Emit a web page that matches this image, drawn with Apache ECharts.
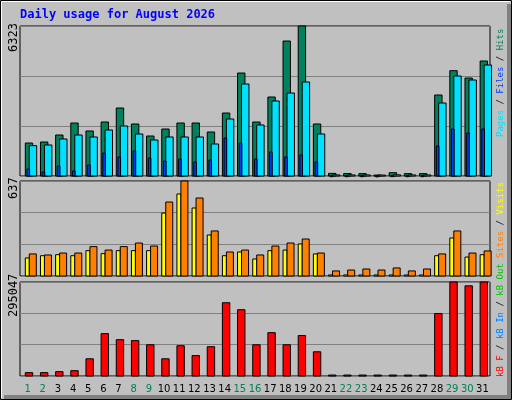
<!DOCTYPE html>
<html><head><meta charset="utf-8">
<script src="https://cdn.jsdelivr.net/npm/echarts@6/dist/echarts.min.js"></script>
<style>html,body{margin:0;padding:0;background:#fff}#c{width:512px;height:400px}</style>
</head><body><div id="c"></div>
<script>
const days = ['1','2','3','4','5','6','7','8','9','10','11','12','13','14','15','16','17','18','19','20','21','22','23','24','25','26','27','28','29','30','31'];
const weekend = [1,2,8,9,15,16,22,23,29,30];
const hits  = [1390,1433,1728,2234,1897,2276,2866,2192,1686,1981,2234,2234,1855,2655,4341,2276,3330,5690,6323,2192,110,105,100,40,140,100,100,3414,4440,4131,4847];
const pages = [1279,1307,1560,1728,1644,1939,2108,1770,1517,1644,1644,1644,1349,2403,3878,2150,3161,3498,3962,1770,45,45,45,40,50,45,45,3077,4215,4046,4679];
const files = [295,169,421,211,464,969,801,1054,759,632,717,590,674,1602,1391,717,1012,801,885,590,10,10,10,5,12,10,10,1265,1981,1812,1981];
const visits = [121,136,143,136,170,150,170,170,170,422,550,456,275,136,161,114,170,174,215,148,7,7,7,7,7,7,7,136,255,127,143];
const sites  = [148,141,154,154,197,174,197,221,201,496,637,523,302,161,174,141,201,221,248,154,34,40,47,40,54,34,47,148,302,154,168];
const kbytes = [10500,10500,13600,16700,54000,133000,114000,111000,98000,54000,95000,64000,92000,230000,208000,98000,136000,98000,127000,76000,3000,3000,3000,3000,3000,3000,3000,196000,295047,283000,295047];
const maxes = [6323, 637, 295047];

const chart = echarts.init(document.getElementById('c'));
function barSeries(data, gi, off, w, color, z) {
  return {
    type: 'custom', xAxisIndex: gi, yAxisIndex: gi, z: z,
    data: data.map((v, i) => [i, v]),
    renderItem: function (params, api) {
      const i = api.value(0), v = api.value(1);
      const slot = api.size([1, 0])[0];
      const c0 = api.coord([i, 0]);
      const c1 = api.coord([i, v]);
      const x0 = c0[0] - slot / 2 + off;
      return { type: 'rect', shape: { x: x0, y: c1[1], width: w, height: Math.max(c0[1] - c1[1], 1) },
        style: { fill: color, stroke: '#000', lineWidth: 1 } };
    }
  };
}
const grids = [
  { left: 20, right: 22, top: 26, height: 150 },
  { left: 20, right: 22, top: 181, height: 95 },
  { left: 20, right: 22, top: 282, height: 94 }
];
const mono = 'DejaVu Sans Mono';
function vtext(x, y, rich, parts, size) {
  return { type: 'text', x: x, y: y, rotation: Math.PI / 2, z: 10,
    style: { text: parts, rich: rich, font: size + 'px ' + mono, align: 'left', verticalAlign: 'middle' } };
}
const R = (c) => ({ fill: c, fontFamily: mono, fontSize: 9 });
chart.setOption({
  animation: false,
  backgroundColor: '#fff',
  grid: grids.map(g => Object.assign({ show: true, backgroundColor: 'transparent', borderColor: '#000', borderWidth: 1 }, g)),
  xAxis: grids.map((g, k) => ({
    type: 'category', gridIndex: k, data: days, boundaryGap: true,
    axisLine: { show: false }, axisTick: { show: false }, splitLine: { show: false },
    axisLabel: k === 2 ? { show: true, fontFamily: 'DejaVu Sans', fontSize: 10, margin: 8, interval: 0,
      color: (v) => weekend.includes(+v) ? '#00805C' : '#000' } : { show: false }
  })),
  yAxis: maxes.map((m, k) => ({
    type: 'value', gridIndex: k, min: 0, max: m, interval: m / 3,
    axisLabel: { show: false }, axisLine: { show: false }, axisTick: { show: false },
    splitLine: { show: true, lineStyle: { color: '#808080', width: 1 } }
  })),
  series: [
    barSeries(hits, 0, 5.3, 7.4, '#00805C', 2),
    barSeries(pages, 0, 9.3, 7.4, '#00E0FF', 3),
    barSeries(files, 0, 7, 2.6, '#0040FF', 4),
    barSeries(visits, 1, 5.3, 4, '#FFFF00', 2),
    barSeries(sites, 1, 9.3, 7, '#FF8000', 3),
    barSeries(kbytes, 2, 5.3, 7.4, '#FF0000', 2)
  ],
  graphic: [
    { type: 'rect', z: -10, shape: { x: 0.5, y: 0.5, width: 511, height: 399 }, style: { fill: '#C0C0C0', stroke: '#000', lineWidth: 1 } },
    { type: 'rect', z: -9, shape: { x: 507, y: 4, width: 4, height: 395 }, style: { fill: '#808080' } },
    { type: 'rect', z: -9, shape: { x: 4, y: 395, width: 507, height: 4 }, style: { fill: '#808080' } },
    { type: 'polyline', z: -9, shape: { points: [[1.5, 398], [1.5, 1.5], [510, 1.5]] }, style: { stroke: '#fff', fill: null, lineWidth: 1 } },
    { type: 'text', x: 20, y: 15, z: 10, style: { text: 'Daily usage for August 2026', font: 'bold 12px ' + mono, fill: '#0000FF', verticalAlign: 'middle' } },
    vtext(14, 52, {}, '6323', 10),
    vtext(14, 199, {}, '637', 10),
    vtext(14, 317, {}, '295047', 10),
    vtext(501, 137, { p: R('#00E0FF'), f: R('#0040FF'), h: R('#00805C'), s: R('#000') }, '{p|Pages}{s| / }{f|Files}{s| / }{h|Hits}', 9),
    vtext(501, 258, { a: R('#FF8000'), b: R('#FFFF00'), s: R('#000') }, '{a|Sites}{s| / }{b|Visits}', 9),
    vtext(501, 377, { a: R('#FF0000'), b: R('#0080FF'), c: R('#00C000'), s: R('#000') }, '{a|kB F}{s| / }{b|kB In}{s| / }{c|kB Out}', 9)
  ].map(g => { if (g.type === 'text' && g.rotation) { g.style.fontFamily = mono; } return g; })
});
</script></body></html>
